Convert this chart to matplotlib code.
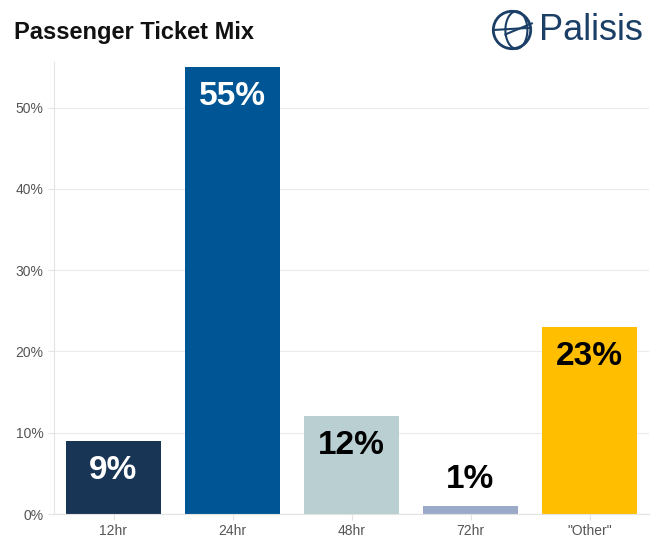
import matplotlib.pyplot as plt
from matplotlib.patches import Circle, Arc
from matplotlib.ticker import PercentFormatter

categories = ['12hr', '24hr', '48hr', '72hr', '"Other"']
shares = [9, 55, 12, 1, 23]
colors = ['#193556', '#005694', '#b9cfd1', '#9aaac8', '#ffbf00']
label_colors = ['white', 'white', 'black', 'black', 'black']

plt.rcParams['font.family'] = ['Liberation Sans', 'DejaVu Sans']
fig = plt.figure(figsize=(6.57, 5.43), dpi=100)
W, H = 657, 543
ax = fig.add_axes([54 / W, 1 - 514 / H, 595 / W, 452 / H])

x = range(len(categories))
ax.bar(x, shares, width=0.79, color=colors, zorder=2)
for i, v in enumerate(shares):
    if v >= 5:
        ax.text(i, v - 3.6, f'{v}%', ha='center', va='center', fontsize=24,
                fontweight='bold', color=label_colors[i], zorder=3)
    else:
        ax.text(i, v + 3.3, f'{v}%', ha='center', va='center', fontsize=24,
                fontweight='bold', color=label_colors[i], zorder=3)

ax.set_xlim(-0.5, 4.5)
ax.set_ylim(0, 55.6)
ax.set_yticks([0, 10, 20, 30, 40, 50])
ax.yaxis.set_major_formatter(PercentFormatter(decimals=0))
ax.set_xticks(list(x))
ax.set_xticklabels(categories)
ax.grid(axis='y', color='#ebebeb', linewidth=0.8, zorder=0)
for s in ['top', 'right']:
    ax.spines[s].set_visible(False)
for s in ['left', 'bottom']:
    ax.spines[s].set_color('#e3e3e3')
ax.tick_params(colors='#e3e3e3', labelcolor='#555555', labelsize=10, length=4)

fig.text(14 / W, 1 - 32 / H, 'Passenger Ticket Mix', fontsize=17, fontweight='bold',
         va='center', ha='left', color='#111111')
# logo
fig.text(539 / W, 1 - 31 / H, 'Palisis', fontsize=26, va='center', ha='left',
         color='#1b3f66')
lax = fig.add_axes([490 / W, 1 - 52 / H, 44 / W, 44 / H])
lax.set_xlim(-1, 1)
lax.set_ylim(-1, 1)
lax.set_aspect('equal')
lax.axis('off')
lax.add_patch(Circle((0, 0), 0.85, fill=False, ec='#1b3f66', lw=2))
lax.add_patch(Arc((0.2, 0), 1.0, 1.7, fill=False, ec='#1b3f66', lw=1.5))
lax.plot([-0.85, 0.85], [0, 0.1], color='#1b3f66', lw=1.5)
lax.plot([-0.3, 0.9], [-0.2, 0.3], color='#1b3f66', lw=1.5)

fig.savefig('out.png', dpi=100)
